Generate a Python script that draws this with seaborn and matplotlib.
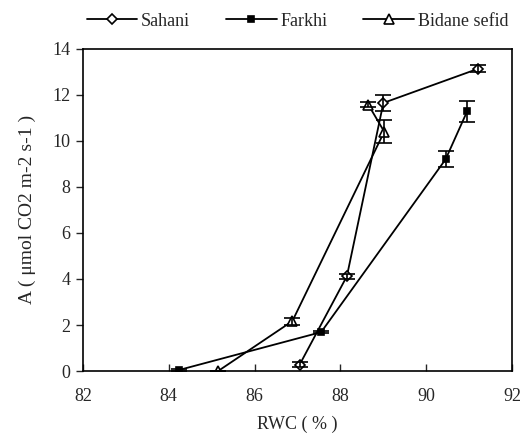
import numpy as np
import pandas as pd
import matplotlib
matplotlib.use("Agg")
import matplotlib.pyplot as plt
import seaborn as sns

# ========== DATA ==========
sahani_rwc = [87.05, 88.15, 89.0, 91.2]
sahani_a = [0.28, 4.12, 11.65, 13.13]
sahani_err = [0.1, 0.1, 0.35, 0.15]

farkhi_rwc = [84.25, 87.55, 90.45, 90.95]
farkhi_a = [0.05, 1.69, 9.2, 11.28]
farkhi_err = [0.05, 0.05, 0.35, 0.45]

bidane_rwc = [85.15, 86.88, 89.02, 88.65]
bidane_a = [0.0, 2.17, 10.4, 11.57]
bidane_err = [0.0, 0.15, 0.5, 0.1]

series = ["Sahani", "Farkhi", "Bidane sefid"]
x_ticks = [82, 84, 86, 88, 90, 92]
y_ticks = [0, 2, 4, 6, 8, 10, 12, 14]

sns.set_style("white")
plt.rcParams['font.family'] = ['Liberation Serif', 'DejaVu Serif']

fig, ax = plt.subplots(figsize=(5.28, 4.36), dpi=100)
fig.subplots_adjust(left=0.157, right=0.97, top=0.888, bottom=0.149)

styles = {
    "Sahani": dict(marker="D", mfc="white", ms=5),
    "Farkhi": dict(marker="s", mfc="black", ms=4.5),
    "Bidane sefid": dict(marker="^", mfc="white", ms=6.5),
}
data = {
    "Sahani": (sahani_rwc, sahani_a, sahani_err),
    "Farkhi": (farkhi_rwc, farkhi_a, farkhi_err),
    "Bidane sefid": (bidane_rwc, bidane_a, bidane_err),
}

for name in series:
    x, y, e = data[name]
    df = pd.DataFrame({"RWC": x, "A": y})
    st = styles[name]
    sns.lineplot(data=df, x="RWC", y="A", sort=False, ax=ax, color="black",
                 lw=1.3, marker=st["marker"], markersize=st["ms"],
                 markerfacecolor=st["mfc"], markeredgecolor="black",
                 markeredgewidth=1.2, label=name)
    ax.errorbar(x, y, yerr=e, fmt="none", ecolor="black", elinewidth=1.2,
                capsize=6, capthick=1.2)

ax.set_xlim(82, 92)
ax.set_ylim(0, 14)
ax.set_xticks(x_ticks)
ax.set_yticks(y_ticks)
ax.tick_params(axis="x", direction="in", length=5, width=1, labelsize=13, pad=12)
ax.tick_params(axis="y", direction="out", length=5, width=1, labelsize=13, pad=4)
ax.tick_params(left=True, bottom=True)
for sp in ax.spines.values():
    sp.set_color("black")
    sp.set_linewidth(1.2)

ax.set_xlabel("RWC ( % )", fontsize=13, labelpad=8)
ax.set_ylabel("A ( μmol CO2 m-2 s-1 )", fontsize=14, labelpad=12)

ax.legend(loc="lower center", bbox_to_anchor=(0.5, 1.02), ncol=3, frameon=False,
          fontsize=13, handlelength=2.8, columnspacing=2.0, handletextpad=0.2,
          borderaxespad=0.3)

fig.savefig("out.png", dpi=100)
